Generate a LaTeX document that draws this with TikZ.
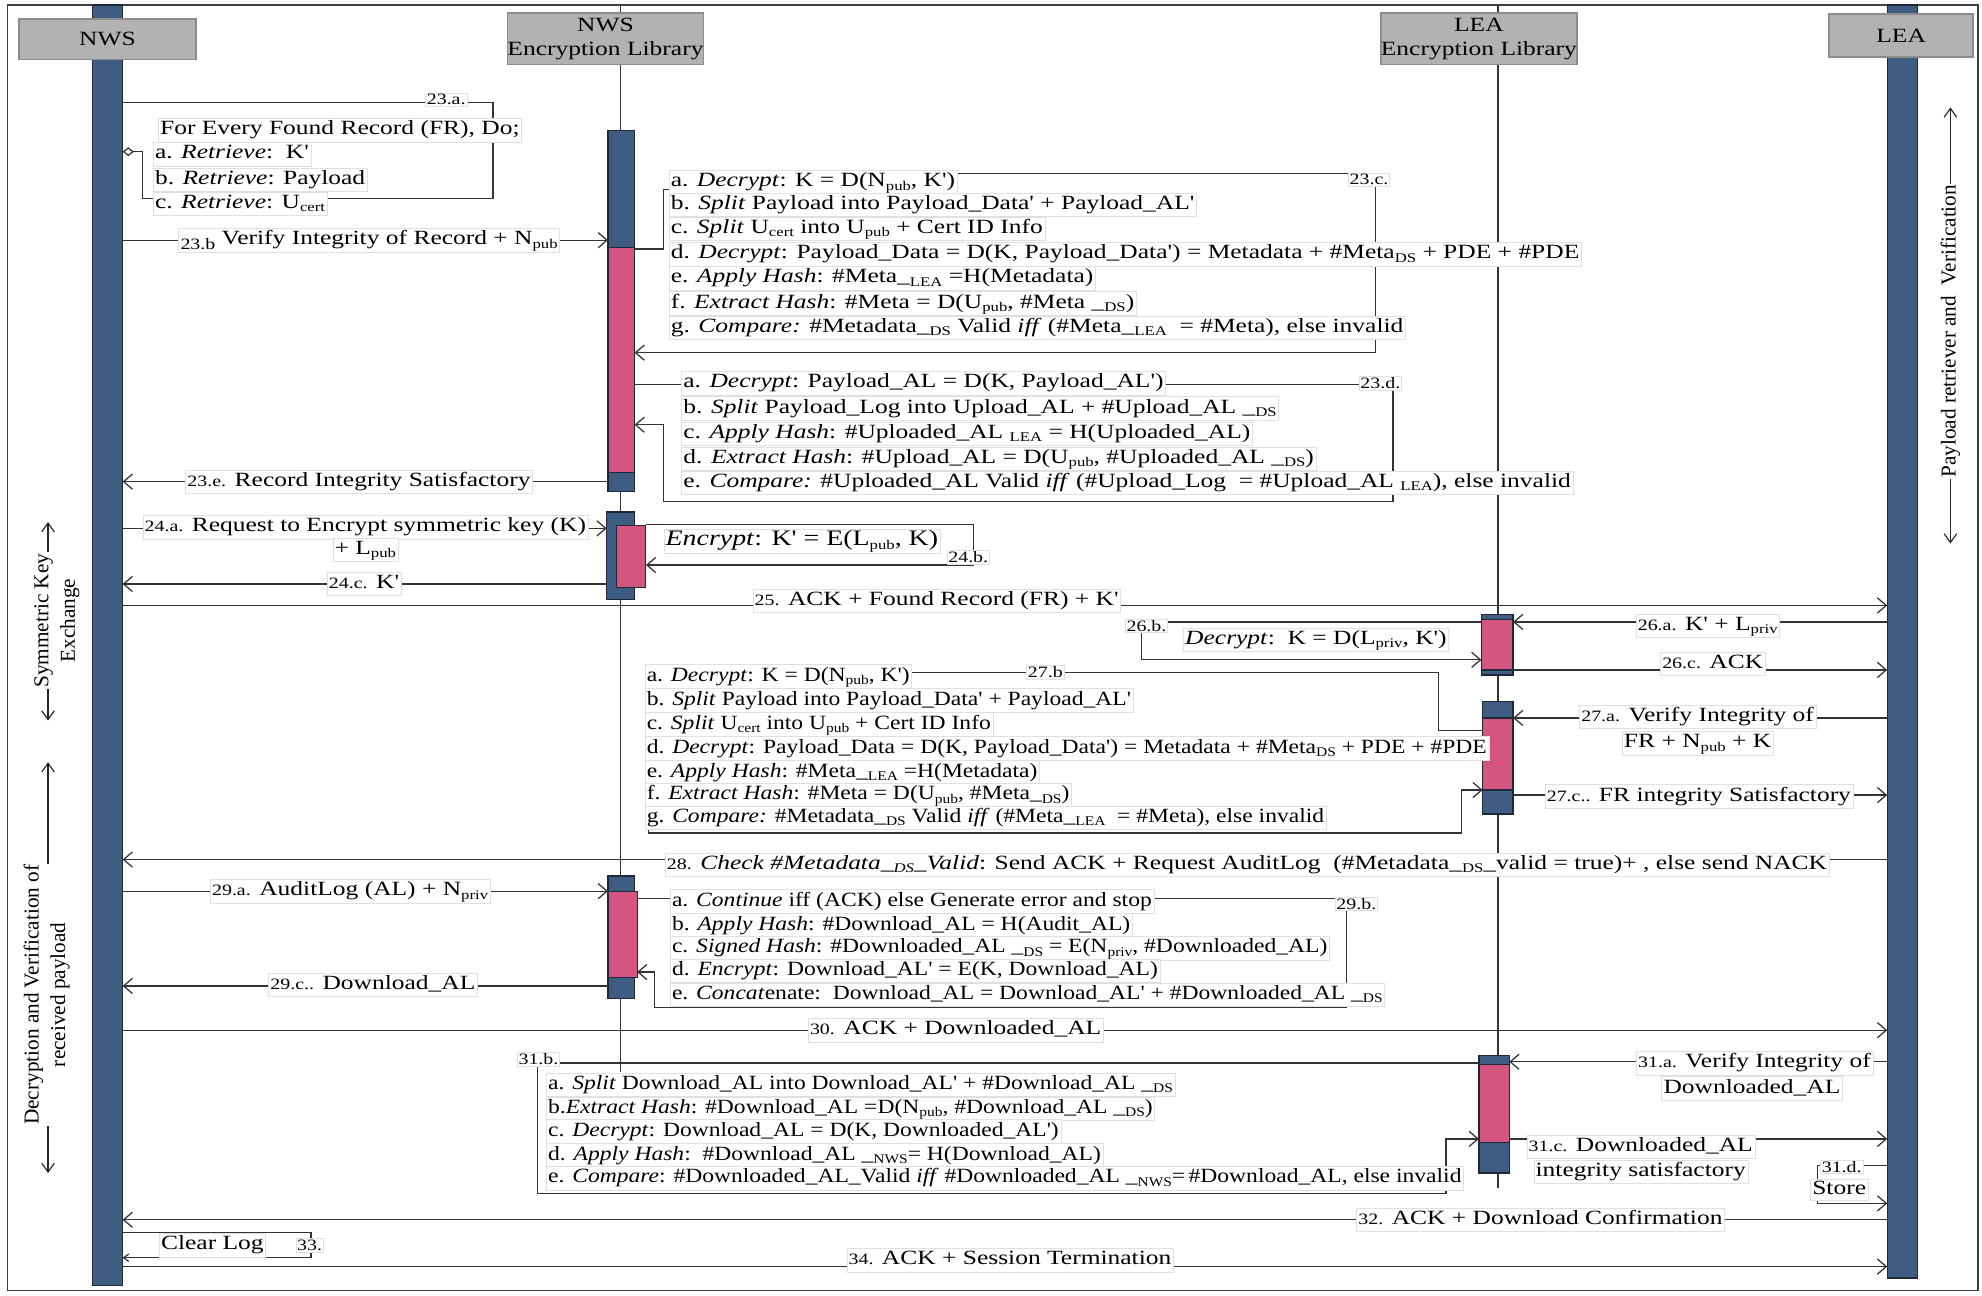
\documentclass[tikz,border=0pt]{standalone}
\usepackage{fontspec}
\setmainfont{Liberation Serif}[FakeStretch=1.26, Ligatures=TeXOff]
\newfontfamily\narrowfont{Liberation Serif}[FakeStretch=1.165]
\newfontfamily\rotfont{Liberation Serif}
\usetikzlibrary{arrows.meta}
\definecolor{barblue}{HTML}{3F5C82}
\definecolor{barpink}{HTML}{D4557F}
\definecolor{edgec}{HTML}{1E2838}
\newcommand\txf{\fontsize{16}{19}\selectfont}
\newcommand\pfx[1]{{\fontsize{12.5}{14}\selectfont #1}}
\newcommand\lwp[1]{\raisebox{-0.45ex}{\fontsize{12.5}{14}\selectfont #1}}
\newcommand\sbx[1]{\raisebox{-0.35ex}{\fontsize{10.5}{12}\selectfont #1}}
\newcommand\rectnode[6]{\node[#1, minimum width={#4-#2}, minimum height={#5-#3}, anchor=north west] (#6) at (#2,#3) {};}
\begin{document}
\begin{tikzpicture}[x=1pt,y=-1pt,
  bluebar/.style={draw=edgec, fill=barblue, line width=0.9pt, inner sep=0pt, outer sep=0pt},
  pinkbar/.style={draw=edgec, fill=barpink, line width=0.9pt, inner sep=0pt, outer sep=0pt},
  hdr/.style={draw=black!45, line width=1.4pt, fill=black!30, align=center, inner sep=0pt, font=\txf},
  life/.style={line width=1pt, draw=black!80},
  ln/.style={line width=1pt, draw=black!80},
  msg/.style={line width=1pt, draw=black!80, -{Straight Barb[length=7pt,width=12pt,line width=1pt]}},
  dbl/.style={line width=0.9pt, draw=black!85, {Straight Barb[length=7pt,width=10pt]}-{Straight Barb[length=7pt,width=10pt]}},
  txt/.style={anchor=west, fill=white, draw=black!12, line width=0.3pt, inner xsep=1.5pt, inner ysep=1pt, text height=12pt, text depth=4.5pt, font=\txf},
  ntxt/.style={txt, font=\narrowfont\txf},
  mlbl/.style={fill=white, draw=black!12, line width=0.3pt, inner xsep=1.5pt, inner ysep=1pt, text height=12pt, text depth=4.5pt, font=\txf},
  slbl/.style={fill=white, draw=black!12, line width=0.3pt, inner sep=1pt, font=\fontsize{12.5}{14}\selectfont},
  rot/.style={rotate=90, fill=white, align=center, inner sep=1pt, font=\rotfont\fontsize{16.8}{21}\selectfont}
]
\useasboundingbox (0,0) rectangle (1568,1025);
\draw[line width=1.2pt, black!75] (6,4) rectangle (1565,1021);

% lifelines
\coordinate (nelTop) at (491,4);
\coordinate (nelBot) at (491,848);
\coordinate (lelTop) at (1185,4);
\coordinate (lelBot) at (1185,940);
\draw[life] (nelTop) -- (nelBot);
\draw[life] (lelTop) -- (lelBot);

% bars and activations
\rectnode{bluebar}{73}{4}{97}{1017}{nwsbar}
\rectnode{bluebar}{1493}{4}{1517}{1011}{leabar}
\rectnode{bluebar}{481}{103}{502}{389}{a1}
\rectnode{pinkbar}{481}{196}{502}{374}{p1}
\rectnode{bluebar}{480}{405}{502}{474}{a2}
\rectnode{pinkbar}{488}{416}{511}{465}{p2}
\rectnode{bluebar}{481}{693}{502}{790}{a3}
\rectnode{pinkbar}{481}{705}{504}{773}{p3}
\rectnode{bluebar}{1172}{486}{1197}{534}{b1}
\rectnode{pinkbar}{1172}{490}{1197}{530}{q1}
\rectnode{bluebar}{1173}{555}{1197}{644}{b2}
\rectnode{pinkbar}{1173}{568}{1197}{625}{q2}
\rectnode{bluebar}{1170}{835}{1194}{928}{b3}
\rectnode{pinkbar}{1170}{842}{1194}{904}{q3}

% headers
\node[hdr, minimum width=140pt, minimum height=32pt] (hnws) at (85,31) {NWS};
\node[hdr, minimum width=146pt, minimum height=41pt] (hnwsel) at (479,30.5) {NWS\\Encryption Library};
\node[hdr, minimum width=154pt, minimum height=41pt] (hleael) at (1170,30.5) {LEA\\Encryption Library};
\node[hdr, minimum width=114pt, minimum height=34pt] (hlea) at (1504,28) {LEA};

% ---------- connectors ----------
% 23.a
\draw[ln, -{Diamond[open,length=9pt,width=7pt]}] (nwsbar.east |- 0,81) -- (390,81) -- (390,157) -- (113,157) -- (113,120) -- (nwsbar.east |- 0,120);
% 23.b
\draw[msg] (nwsbar.east |- 0,190) -- (a1.west |- 0,190);
% 23.c
\draw[msg] (p1.east |- 0,197) -- (525,197) -- (525,150) -- (540,150) -- (540,137) -- (1088,137) -- (1088,279) -- (p1.east |- 0,279);
% 23.d
\draw[msg] (p1.east |- 0,304) -- (1102,304) -- (1102,397) -- (525,397) -- (525,336) -- (p1.east |- 0,336);
% 23.e
\draw[msg] (a1.west |- 0,381) -- (nwsbar.east |- 0,381);
% 24.a
\draw[msg] (nwsbar.east |- 0,418) -- (a2.west |- 0,418);
% 24.b
\draw[msg] (p2.east |- 0,415) -- (770,415) -- (770,447) -- (p2.east |- 0,447);
% 24.c
\draw[msg] (a2.west |- 0,462) -- (nwsbar.east |- 0,462);
% 25
\draw[msg] (nwsbar.east |- 0,479) -- (leabar.west |- 0,479);
% 26.a
\draw[msg] (leabar.west |- 0,492) -- (b1.east |- 0,492);
% 26.b
\draw[msg] (b1.west |- 0,492) -- (903,492) -- (903,522) -- (b1.west |- 0,522);
% 26.c
\draw[msg] (b1.east |- 0,530) -- (leabar.west |- 0,530);
% 27.a
\draw[msg] (leabar.west |- 0,568) -- (b2.east |- 0,568);
% 27.b
\draw[msg] (q2.west |- 0,578) -- (1138,578) -- (1138,532) -- (513,532) -- (513,659) -- (1156,659) -- (1156,625) -- (b2.west |- 0,625);
% 27.c
\draw[msg] (b2.east |- 0,629) -- (leabar.west |- 0,629);
% 28
\draw[msg] (leabar.west |- 0,680) -- (nwsbar.east |- 0,680);
% 29.a
\draw[msg] (nwsbar.east |- 0,705) -- (a3.west |- 0,705);
% 29.b
\draw[msg] (p3.east |- 0,711) -- (1065,711) -- (1065,797) -- (518,797) -- (518,769) -- (p3.east |- 0,769);
% 29.c
\draw[msg] (a3.west |- 0,780) -- (nwsbar.east |- 0,780);
% 30
\draw[msg] (nwsbar.east |- 0,815) -- (leabar.west |- 0,815);
% 31.a
\draw[msg] (leabar.west |- 0,840) -- (b3.east |- 0,840);
% 31.b
\draw[msg] (b3.west |- 0,841) -- (425,841) -- (425,944) -- (1144,944) -- (1144,901) -- (q3.west |- 0,901);
% 31.c
\draw[msg] (b3.east |- 0,901) -- (leabar.west |- 0,901);
% 31.d
\draw[msg] (leabar.west |- 0,922) -- (1438,922) -- (1438,952) -- (leabar.west |- 0,952);
% 32
\draw[msg] (leabar.west |- 0,965) -- (nwsbar.east |- 0,965);
% 33
\draw[ln, -{Straight Barb[length=4pt,width=6pt]}] (nwsbar.east |- 0,975) -- (246,975) -- (246,995) -- (nwsbar.east |- 0,995);
% 34
\draw[msg] (nwsbar.east |- 0,1002) -- (leabar.west |- 0,1002);

% side annotations
\coordinate (skTop) at (38,413);
\coordinate (skBot) at (38,570);
\draw[dbl] (skBot) -- (skTop);
\node[rot] (sk) at (45,491) {Symmetric Key\\Exchange};
\coordinate (dvTop) at (38,603);
\coordinate (dvBot) at (38,928);
\draw[dbl] (dvTop) -- (dvBot);
\node[rot] (dv) at (37,787) {Decryption and Verification of\\received payload};
\coordinate (prTop) at (1543,85);
\coordinate (prBot) at (1543,430);
\draw[dbl] (prTop) -- (prBot);
\node[rot] (pr) at (1543,262) {Payload retriever and\ \ Verification};

% ---------- texts ----------
% 23.a
\node[slbl] (l23a) at (353,79) {23.a.};
\node[txt] (t23a0) at (125,103) {For Every Found Record (FR), Do;};
\node[txt] (t23a1) at (121,122) {a. \textit{Retrieve}:\ \ K'};
\node[txt] (t23a2) at (121,142) {b. \textit{Retrieve}: Payload};
\node[txt] (t23a3) at (121,161) {c. \textit{Retrieve}: U\sbx{cert}};
% 23.b
\node[mlbl] (l23b) at (292,190) {\lwp{23.b} Verify Integrity of Record + N\sbx{pub}};
% 23.c
\node[slbl] (l23c) at (1083,142) {23.c.};
\node[txt] (t23c1) at (529,144) {a. \textit{Decrypt}: K = D(N\sbx{pub}, K')};
\node[txt] (t23c2) at (529,162) {b. \textit{Split} Payload into Payload\_Data' + Payload\_AL'};
\node[txt] (t23c3) at (529,181) {c. \textit{Split} U\sbx{cert} into U\sbx{pub} + Cert ID Info};
\node[txt] (t23c4) at (529,201) {d. \textit{Decrypt}: Payload\_Data = D(K, Payload\_Data') = Metadata + \#Meta\sbx{DS} + PDE + \#PDE};
\node[txt] (t23c5) at (529,220) {e. \textit{Apply Hash}: \#Meta\_\sbx{LEA} =H(Metadata)};
\node[txt] (t23c6) at (529,240) {f. \textit{Extract Hash}: \#Meta = D(U\sbx{pub}, \#Meta \_\sbx{DS})};
\node[txt] (t23c7) at (529,259) {g. \textit{Compare:} \#Metadata\_\sbx{DS} Valid \textit{iff} (\#Meta\_\sbx{LEA}\ \ = \#Meta), else invalid};
% 23.d
\node[slbl] (l23d) at (1092,303) {23.d.};
\node[txt] (t23d1) at (539,303) {a. \textit{Decrypt}: Payload\_AL = D(K, Payload\_AL')};
\node[txt] (t23d2) at (539,323) {b. \textit{Split} Payload\_Log into Upload\_AL + \#Upload\_AL \_\sbx{DS}};
\node[txt] (t23d3) at (539,343) {c. \textit{Apply Hash}: \#Uploaded\_AL \sbx{LEA} = H(Uploaded\_AL)};
\node[txt] (t23d4) at (539,363) {d. \textit{Extract Hash}: \#Upload\_AL = D(U\sbx{pub}, \#Uploaded\_AL \_\sbx{DS})};
\node[txt] (t23d5) at (539,382) {e. \textit{Compare:} \#Uploaded\_AL Valid \textit{iff} (\#Upload\_Log\ \ = \#Upload\_AL \sbx{LEA}), else invalid};
% 23.e
\node[mlbl] (l23e) at (284,381) {\pfx{23.e.} Record Integrity Satisfactory};
% 24
\node[mlbl] (l24a) at (289,417) {\pfx{24.a.} Request to Encrypt symmetric key (K)};
\node[mlbl] (l24a2) at (289,435) {+ L\sbx{pub}};
\node[txt, font=\fontsize{17.5}{20}\selectfont] (t24b) at (525,428) {\textit{Encrypt}: K' = E(L\sbx{pub}, K)};
\node[slbl] (l24b) at (766,441) {24.b.};
\node[mlbl] (l24c) at (288,462) {\pfx{24.c.} K'};
% 25-27
\node[mlbl] (l25) at (741,475) {\pfx{25.} ACK + Found Record (FR) + K'};
\node[mlbl] (l26a) at (1351,495) {\pfx{26.a.} K' + L\sbx{priv}};
\node[slbl] (l26b) at (907,495) {26.b.};
\node[txt] (t26b) at (936,506) {\textit{Decrypt}:\ \ K = D(L\sbx{priv}, K')};
\node[mlbl] (l26c) at (1355,525) {\pfx{26.c.} ACK};
\node[mlbl] (l27a) at (1343,567) {\pfx{27.a.} Verify Integrity of};
\node[mlbl] (l27a2) at (1343,588) {FR + N\sbx{pub} + K};
\node[slbl] (l27b) at (827,532) {27.b};
\node[ntxt] (t27b1) at (510,535) {a. \textit{Decrypt}: K = D(N\sbx{pub}, K')};
\node[ntxt] (t27b2) at (510,554) {b. \textit{Split} Payload into Payload\_Data' + Payload\_AL'};
\node[ntxt] (t27b3) at (510,573) {c. \textit{Split} U\sbx{cert} into U\sbx{pub} + Cert ID Info};
\node[ntxt] (t27b4) at (510,592) {d. \textit{Decrypt}: Payload\_Data = D(K, Payload\_Data') = Metadata + \#Meta\sbx{DS} + PDE + \#PDE};
\node[ntxt] (t27b5) at (510,611) {e. \textit{Apply Hash}: \#Meta\_\sbx{LEA} =H(Metadata)};
\node[ntxt] (t27b6) at (510,629) {f. \textit{Extract Hash}: \#Meta = D(U\sbx{pub}, \#Meta\_\sbx{DS})};
\node[ntxt] (t27b7) at (510,647) {g. \textit{Compare:} \#Metadata\_\sbx{DS} Valid \textit{iff} (\#Meta\_\sbx{LEA}\ \ = \#Meta), else invalid};
\node[mlbl] (l27c) at (1344,630) {\pfx{27.c..} FR integrity Satisfactory};
% 28
\node[mlbl, anchor=west] (l28) at (526,684) {\pfx{28.} \textit{Check \#Metadata\_\sbx{DS}\_Valid}: Send ACK + Request AuditLog\ \ (\#Metadata\_\sbx{DS}\_valid = true)+ , else send NACK};
% 29
\node[mlbl] (l29a) at (277,705) {\pfx{29.a.} AuditLog (AL) + N\sbx{priv}};
\node[slbl] (l29b) at (1073,715) {29.b.};
\node[ntxt] (t29b1) at (530,713) {a. \textit{Continue} iff (ACK) else Generate error and stop};
\node[ntxt] (t29b2) at (530,732) {b. \textit{Apply Hash}: \#Download\_AL = H(Audit\_AL)};
\node[ntxt] (t29b3) at (530,750) {c. \textit{Signed Hash}: \#Downloaded\_AL \_\sbx{DS} = E(N\sbx{priv}, \#Downloaded\_AL)};
\node[ntxt] (t29b4) at (530,768) {d. \textit{Encrypt}: Download\_AL' = E(K, Download\_AL)};
\node[ntxt] (t29b5) at (530,787) {e. \textit{Concat}enate:\ \ Download\_AL = Download\_AL' + \#Downloaded\_AL \_\sbx{DS}};
\node[mlbl] (l29c) at (295,779) {\pfx{29.c..} Download\_AL};
% 30-31
\node[mlbl] (l30) at (756,815) {\pfx{30.} ACK + Downloaded\_AL};
\node[mlbl] (l31a) at (1388,841) {\pfx{31.a.} Verify Integrity of};
\node[mlbl] (l31a2) at (1386,861) {Downloaded\_AL};
\node[slbl] (l31b) at (426,838) {31.b.};
\node[ntxt] (t31b1) at (432,858) {a. \textit{Split} Download\_AL into Download\_AL' + \#Download\_AL \_\sbx{DS}};
\node[ntxt] (t31b2) at (432,877) {b.\textit{Extract Hash}: \#Download\_AL =D(N\sbx{pub}, \#Download\_AL \_\sbx{DS})};
\node[ntxt] (t31b3) at (432,895) {c. \textit{Decrypt}: Download\_AL = D(K, Downloaded\_AL')};
\node[ntxt] (t31b4) at (432,914) {d. \textit{Apply Hash}:\ \ \#Download\_AL \_\sbx{NWS}= H(Download\_AL)};
\node[ntxt] (t31b5) at (432,932) {e. \textit{Compare}: \#Downloaded\_AL\_Valid \textit{iff} \#Downloaded\_AL \_\sbx{NWS}=\,\#Download\_AL, else invalid};
\node[mlbl] (l31c) at (1298,907) {\pfx{31.c.} Downloaded\_AL};
\node[mlbl] (l31c2) at (1298,927) {integrity satisfactory};
\node[slbl] (l31d) at (1457,923) {31.d.};
\node[mlbl, inner ysep=0pt] (t31d) at (1455,941) {Store};
% 32-34
\node[mlbl, anchor=west] (l32) at (1073,965) {\pfx{32.} ACK + Download Confirmation};
\node[mlbl, text height=12.5pt, text depth=5pt] (t33) at (168,985) {Clear Log};
\node[slbl] (l33) at (245,985) {33.};
\node[mlbl] (l34) at (799,997) {\pfx{34.} ACK + Session Termination};
\end{tikzpicture}
\end{document}
